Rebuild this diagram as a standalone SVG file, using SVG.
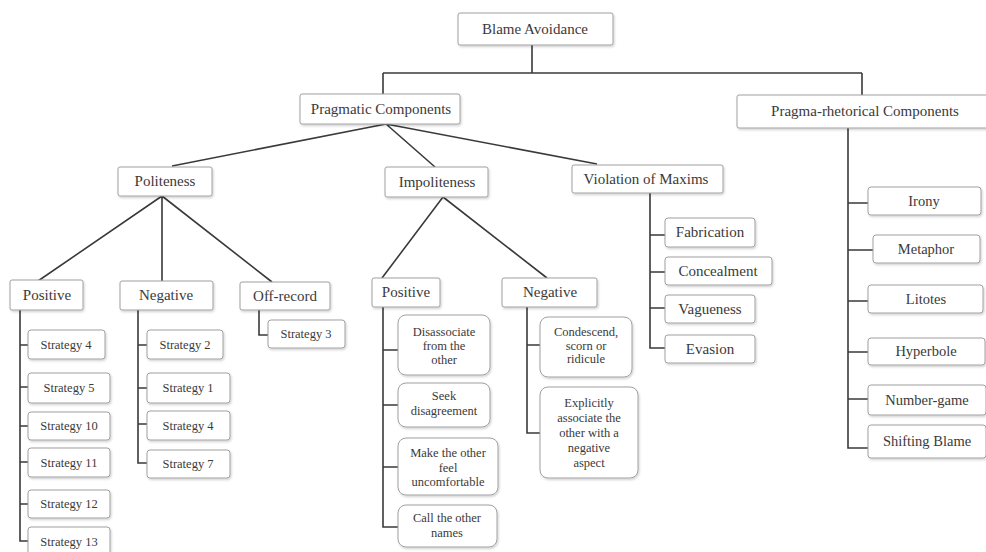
<svg xmlns="http://www.w3.org/2000/svg" width="986" height="552" viewBox="0 0 986 552">
<style>
.b{fill:#fff;stroke:#a0a0a0;stroke-width:1;filter:url(#sh)}
.t{font-family:"Liberation Serif","Times New Roman",serif;fill:#3a3a3a;text-anchor:middle}
.m{font-size:15px}
.s{font-size:12.5px}
.r{font-size:14.5px}
#connectors path{fill:none;stroke:#3a3a3a;stroke-width:1.6}
</style>
<defs>
<filter id="sh" x="-10%" y="-20%" width="130%" height="150%">
<feDropShadow dx="1" dy="1.5" stdDeviation="1" flood-color="#000" flood-opacity="0.18"/>
</filter>
</defs>
<rect width="986" height="552" fill="#fff"/>
<g id="connectors">
<path d="M532 45V73M383 73H862M383 73V94M862 73V95"/>
<path d="M386 124L172 166M386 124L435 167M386 124L597 164"/>
<path d="M162 196L38 281M162 196V281M162 196L272 282"/>
<path d="M443 197L382 278M443 197L547 278"/>
<path d="M20 310V541H28M20 345H28M20 387H28M20 426H28M20 462H28M20 504H28"/>
<path d="M138 310V463H147M138 345H147M138 388H147M138 424H147"/>
<path d="M259 310V335H268"/>
<path d="M383 307V527H398M383 350H398M383 405H398M383 467H398"/>
<path d="M527 307V433H540M527 345H540"/>
<path d="M650 193V348H665M650 235H665M650 272H665M650 308H665"/>
<path d="M848 128V448H868M848 203H868M848 250H873M848 301H868M848 352H868M848 399H868"/>
</g>
<g id="blame"><rect class="b" x="458" y="13" width="155" height="32" rx="2"/><text class="t m" x="535" y="34">Blame Avoidance</text></g>
<g id="pragmatic"><rect class="b" x="300" y="94" width="160" height="30" rx="2"/><text class="t m" x="381" y="114">Pragmatic Components</text></g>
<g id="pragmarhet"><rect class="b" x="737" y="95" width="262" height="33" rx="2"/><text class="t m" x="865" y="116">Pragma-rhetorical Components</text></g>
<g id="politeness"><rect class="b" x="118" y="167" width="94" height="29" rx="2"/><text class="t m" x="165" y="186">Politeness</text></g>
<g id="impoliteness"><rect class="b" x="385" y="167" width="103" height="30" rx="2"/><text class="t m" x="437" y="187">Impoliteness</text></g>
<g id="violation"><rect class="b" x="572" y="165" width="151" height="28" rx="2"/><text class="t m" x="646" y="184">Violation of Maxims</text></g>
<g id="pol-positive"><rect class="b" x="10" y="280" width="73" height="30" rx="2"/><text class="t m" x="47" y="300">Positive</text></g>
<g id="pol-negative"><rect class="b" x="120" y="281" width="93" height="29" rx="2"/><text class="t m" x="166" y="300">Negative</text></g>
<g id="offrecord"><rect class="b" x="240" y="282" width="90" height="28" rx="2"/><text class="t m" x="285" y="301">Off-record</text></g>
<g id="off-s3"><rect class="b" x="268" y="320" width="77" height="28" rx="3"/><text class="t s" x="306" y="338">Strategy 3</text></g>
<g id="pos-s4"><rect class="b" x="28" y="330" width="77" height="29" rx="3"/><text class="t s" x="66" y="349">Strategy 4</text></g>
<g id="pos-s5"><rect class="b" x="28" y="373" width="82" height="30" rx="3"/><text class="t s" x="69" y="392">Strategy 5</text></g>
<g id="pos-s10"><rect class="b" x="28" y="412" width="82" height="28" rx="3"/><text class="t s" x="69" y="430">Strategy 10</text></g>
<g id="pos-s11"><rect class="b" x="28" y="448" width="82" height="29" rx="3"/><text class="t s" x="69" y="467">Strategy 11</text></g>
<g id="pos-s12"><rect class="b" x="28" y="490" width="82" height="28" rx="3"/><text class="t s" x="69" y="508">Strategy 12</text></g>
<g id="pos-s13"><rect class="b" x="28" y="527" width="82" height="30" rx="3"/><text class="t s" x="69" y="546">Strategy 13</text></g>
<g id="neg-s2"><rect class="b" x="147" y="330" width="76" height="29" rx="3"/><text class="t s" x="185" y="349">Strategy 2</text></g>
<g id="neg-s1"><rect class="b" x="147" y="373" width="83" height="30" rx="3"/><text class="t s" x="188" y="392">Strategy 1</text></g>
<g id="neg-s4"><rect class="b" x="147" y="411" width="83" height="29" rx="3"/><text class="t s" x="188" y="430">Strategy 4</text></g>
<g id="neg-s7"><rect class="b" x="147" y="450" width="83" height="28" rx="3"/><text class="t s" x="188" y="468">Strategy 7</text></g>
<g id="imp-positive"><rect class="b" x="372" y="278" width="68" height="29" rx="2"/><text class="t m" x="406" y="297">Positive</text></g>
<g id="imp-negative"><rect class="b" x="502" y="278" width="95" height="29" rx="2"/><text class="t m" x="550" y="297">Negative</text></g>
<g id="disassociate"><rect class="b" x="398" y="315" width="92" height="60" rx="8"/><text class="t s" x="444" y="336">Disassociate<tspan x="444" dy="14">from the</tspan><tspan x="444" dy="14">other</tspan></text></g>
<g id="disagreement"><rect class="b" x="398" y="383" width="92" height="44" rx="8"/><text class="t s" x="444" y="400">Seek<tspan x="444" dy="15">disagreement</tspan></text></g>
<g id="uncomfortable"><rect class="b" x="398" y="438" width="100" height="57" rx="8"/><text class="t s" x="448" y="457">Make the other<tspan x="448" dy="14.5">feel</tspan><tspan x="448" dy="14.5">uncomfortable</tspan></text></g>
<g id="names"><rect class="b" x="398" y="505" width="99" height="42" rx="8"/><text class="t s" x="447" y="522">Call the other<tspan x="447" dy="15">names</tspan></text></g>
<g id="condescend"><rect class="b" x="540" y="317" width="92" height="60" rx="8"/><text class="t s" x="586" y="336">Condescend,<tspan x="586" dy="13.5">scorn or</tspan><tspan x="586" dy="13.5">ridicule</tspan></text></g>
<g id="explicitly"><rect class="b" x="540" y="387" width="98" height="91" rx="8"/><text class="t s" x="589" y="407">Explicitly<tspan x="589" dy="15">associate the</tspan><tspan x="589" dy="15">other with a</tspan><tspan x="589" dy="15">negative</tspan><tspan x="589" dy="15">aspect</tspan></text></g>
<g id="fabrication"><rect class="b" x="665" y="218" width="90" height="29" rx="3"/><text class="t m" x="710" y="237">Fabrication</text></g>
<g id="concealment"><rect class="b" x="665" y="257" width="107" height="28" rx="3"/><text class="t m" x="718" y="276">Concealment</text></g>
<g id="vagueness"><rect class="b" x="665" y="295" width="90" height="28" rx="3"/><text class="t m" x="710" y="314">Vagueness</text></g>
<g id="evasion"><rect class="b" x="665" y="335" width="90" height="28" rx="3"/><text class="t m" x="710" y="354">Evasion</text></g>
<g id="irony"><rect class="b" x="868" y="187" width="113" height="28" rx="3"/><text class="t r" x="924" y="206">Irony</text></g>
<g id="metaphor"><rect class="b" x="873" y="235" width="107" height="28" rx="3"/><text class="t r" x="926" y="254">Metaphor</text></g>
<g id="litotes"><rect class="b" x="868" y="285" width="115" height="28" rx="3"/><text class="t r" x="926" y="304">Litotes</text></g>
<g id="hyperbole"><rect class="b" x="868" y="338" width="117" height="27" rx="3"/><text class="t r" x="926" y="356">Hyperbole</text></g>
<g id="numbergame"><rect class="b" x="868" y="385" width="118" height="30" rx="3"/><text class="t r" x="927" y="405">Number-game</text></g>
<g id="shifting"><rect class="b" x="868" y="425" width="118" height="33" rx="3"/><text class="t r" x="927" y="446">Shifting Blame</text></g>
</svg>
